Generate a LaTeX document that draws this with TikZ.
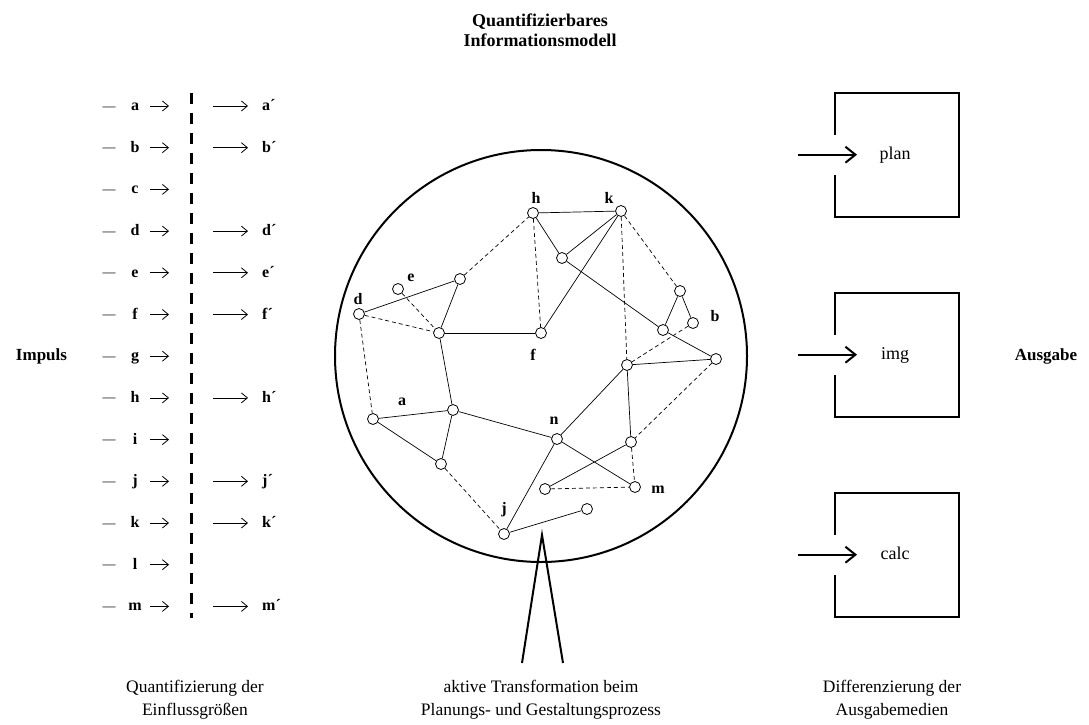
\documentclass[tikz,border=0pt]{standalone}
\usepackage{fontspec}
\setmainfont{Liberation Serif}
\usetikzlibrary{arrows.meta}
\begin{document}
\begin{tikzpicture}[x=1pt,y=-1pt,
  txt/.style={inner sep=0pt,font=\fontsize{17.5}{23}\selectfont,align=center},
  boxtxt/.style={inner sep=0pt,font=\fontsize{18}{21}\selectfont},
  bold/.style={inner sep=0pt,font=\fontsize{18}{20}\selectfont\bfseries,align=center},
  side/.style={inner sep=0pt,font=\fontsize{17}{20}\selectfont\bfseries},
  letter/.style={inner sep=0pt,font=\fontsize{16}{19}\selectfont\bfseries},
  vertex/.style={circle,draw,fill=white,line width=0.8pt,minimum size=11pt,inner sep=0pt},
  link/.style={line width=0.7pt},
  weak/.style={line width=0.7pt,dash pattern=on 4pt off 3pt},
  rowarrow/.style={line width=0.8pt,-{Straight Barb[length=6pt,width=10pt]}},
  boxarrow/.style={line width=2pt,-{Straight Barb[length=10pt,width=16pt]}},
  heavy/.style={line width=2pt}]
\fill[white] (0,0) rectangle (1089,725);
\useasboundingbox (0,0) rectangle (1089,725);

% headings
\node[bold] (title) at (540,30) {Quantifizierbares\\Informationsmodell};
\node[side] (impuls) at (41.5,356) {Impuls};
\node[side] (ausgabe) at (1046,356) {Ausgabe};

% captions
\node[txt] (cap1) at (195,700) {Quantifizierung der\\Einflussgrößen};
\node[txt] (cap2) at (541,700) {aktive Transformation beim\\Planungs- und Gestaltungsprozess};
\node[txt] (cap3) at (892,700) {Differenzierung der\\Ausgabemedien};

% input rows
\foreach \l/\p [count=\i from 0] in {a/1,b/1,c/0,d/1,e/1,f/1,g/0,h/1,i/0,j/1,k/1,l/0,m/1}{
  \pgfmathsetmacro\y{106+41.7*\i}
  \node[inner sep=0pt,font=\fontsize{13}{15}\selectfont,anchor=base] (dash-\l) at (109,\y+4) {—};
  \node[letter,anchor=base] (in-\l) at (135,\y+4.5) {\l};
  \coordinate (as-\l) at (150,\y);
  \coordinate (ae-\l) at (169,\y);
  \draw[rowarrow] (as-\l) -- (ae-\l);
  \ifnum\p=1
    \coordinate (ls-\l) at (213,\y);
    \coordinate (le-\l) at (248,\y);
    \draw[rowarrow] (ls-\l) -- (le-\l);
    \node[letter,anchor=base west] (out-\l) at (262,\y+4.5) {\l´};
  \fi
}
% separating line
\draw[line width=2.5pt,dash pattern=on 11pt off 9pt] (191.7,92.7) -- (191.7,618);

% model boundary and funnel
\draw[heavy] (541,356) circle[radius=206];
\coordinate (fl) at (522,663);
\coordinate (fa) at (542,535);
\coordinate (fr) at (563,663);
\draw[heavy] (fl) -- (fa) -- (fr);

% network vertices
\node[vertex] (h) at (533,213) {};
\node[vertex] (k) at (621,211) {};
\node[vertex] (p3) at (562,258) {};
\node[vertex] (p1) at (460,279) {};
\node[vertex] (e) at (398,289) {};
\node[vertex] (d) at (359,314) {};
\node[vertex] (p2) at (439,333) {};
\node[vertex] (f) at (541,333) {};
\node[vertex] (p4) at (680,291) {};
\node[vertex] (p5) at (693,323) {};
\node[vertex] (p6) at (663,330) {};
\node[vertex] (p7) at (716,359) {};
\node[vertex] (p8) at (627,365) {};
\node[vertex] (a) at (373,419) {};
\node[vertex] (p9) at (453,410) {};
\node[vertex] (p10) at (441,464) {};
\node[vertex] (n) at (557,439) {};
\node[vertex] (p12) at (631,442) {};
\node[vertex] (m) at (635,487) {};
\node[vertex] (p11) at (545,489) {};
\node[vertex] (p13) at (587,509) {};
\node[vertex] (j) at (504,534) {};

% vertex labels
\node[letter] (lh) at (536,198) {h};
\node[letter] (lk) at (609,198) {k};
\node[letter] (le) at (411,278) {e};
\node[letter] (ld) at (358,299) {d};
\node[letter] (lf) at (533,355) {f};
\node[letter] (lb) at (715,316) {b};
\node[letter] (la) at (402,402) {a};
\node[letter] (ln) at (554,421) {n};
\node[letter] (lj) at (504,510) {j};
\node[letter] (lm) at (658,490) {m};

% firm relations
\foreach \u/\v in {d/p1,p1/p2,p2/f,p2/p9,h/k,h/p3,p3/k,f/k,p4/p6,p4/p5,p3/p6,p6/p7,
                   p8/p7,n/p8,p12/p8,n/m,p12/p11,n/j,j/p13,n/p9,a/p9,a/p10,p9/p10}
  \draw[link] (\u) -- (\v);
% loose relations
\foreach \u/\v in {e/p2,d/p2,p1/h,h/f,d/a,k/p8,k/p4,p5/p8,p7/p12,p12/m,p11/m,p10/j}
  \draw[weak] (\u) -- (\v);

% output media
\foreach \t/\name in {92.7/plan,292.7/img,492.7/calc}{
  \draw[heavy] (835,\t+42) -- (835,\t) -- (959,\t) -- (959,\t+124) -- (835,\t+124) -- (835,\t+82);
  \coordinate (src-\name) at (798,\t+62);
  \coordinate (dst-\name) at (857,\t+62);
  \draw[boxarrow] (src-\name) -- (dst-\name);
  \node[boxtxt,anchor=base] (box-\name) at (895,\t+67) {\name};
}
\end{tikzpicture}
\end{document}
